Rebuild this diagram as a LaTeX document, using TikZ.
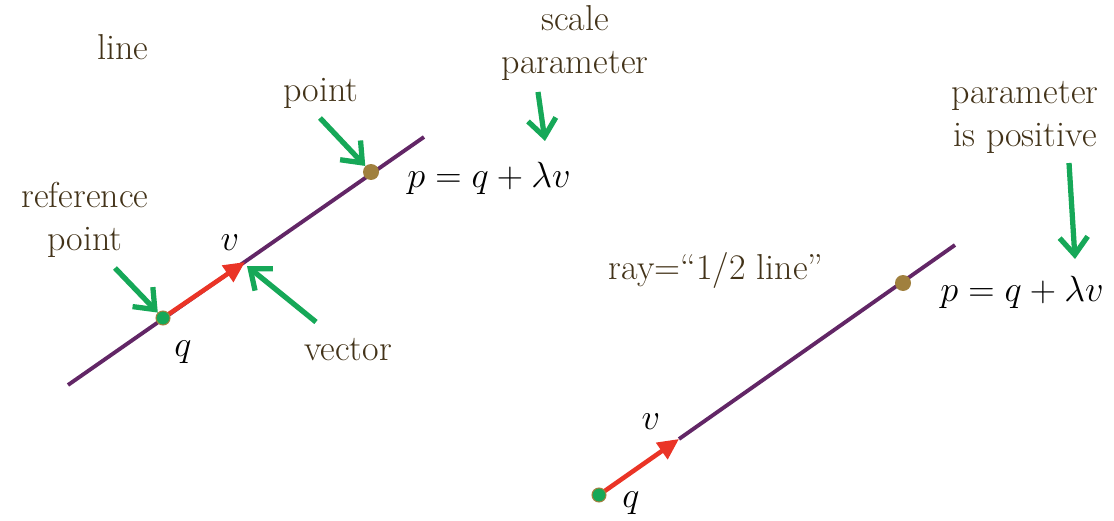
\documentclass[tikz,border=0pt]{standalone}
\usepackage{amsmath,amssymb}
\usepackage{tikz}
\usetikzlibrary{arrows.meta,positioning}

\definecolor{txtbrown}{RGB}{66,50,24}
\definecolor{linepurple}{RGB}{98,38,102}
\definecolor{vecred}{RGB}{234,52,38}
\definecolor{ptgreen}{RGB}{22,168,88}
\definecolor{ptgold}{RGB}{160,128,62}

\tikzset{
    lbl/.style={text=txtbrown, font=\fontsize{20.5}{24.5}\selectfont, inner sep=0pt, align=center},
    mth/.style={text=black, font=\fontsize{20.5}{24.5}\selectfont, inner sep=0pt},
    ln/.style={draw=linepurple, line width=2.2pt},
    vec/.style={draw=vecred, line width=2.6pt, -{Triangle[length=12pt,width=11pt]}},
    garrow/.style={draw=ptgreen, line width=3pt, -{Straight Barb[length=10pt,width=16pt]}},
    qdot/.style={circle, fill=ptgreen, draw=ptgold, line width=0.6pt, minimum size=0.28cm, inner sep=0pt},
    pdot/.style={circle, fill=ptgold, minimum size=0.32cm, inner sep=0pt}
}

\begin{document}
\begin{tikzpicture}[x=0.02cm,y=-0.02cm]
    \useasboundingbox (0,0) rectangle (1114,520);

    % line
    \node[lbl] (linelbl) at (123,47) {line};
    \draw[ln] (68,385) -- (424,137);
    \coordinate (v1) at (245,262);
    \coordinate (q1c) at (163,318);
    \draw[vec] (q1c) -- (v1);
    \node[qdot] (q1) at (q1c) {};
    \node[pdot] (p1) at (371,172) {};
    \node[mth] (vlbl1) at (230,243) {$v$};
    \node[mth] (qlbl1) at (183,352) {$q$};
    \node[mth] (eq1) at (489,178) {$p = q + \lambda v$};

    \node[lbl] (pointlbl) at (321,93) {point};
    \node[lbl] (scalelbl) at (575,43) {scale\\parameter};
    \node[lbl] (reflbl) at (85,220) {reference\\point};
    \node[lbl] (veclbl) at (348,350) {vector};

    \coordinate (t1) at (320,118);
    \coordinate (t2) at (538,92);
    \coordinate (h2) at (545,141);
    \coordinate (t3) at (115,268);
    \coordinate (t4) at (316,322);
    \draw[garrow] (t1) -- (p1);
    \draw[garrow] (t2) -- (h2);
    \draw[garrow] (t3) -- (q1);
    \draw[garrow] (t4) -- ([shift={(2,4)}]v1);

    % ray
    \node[lbl] (raylbl) at (716,270) {ray=``1/2 line''};
    \coordinate (v2) at (679,439);
    \coordinate (q2c) at (599,495);
    \draw[ln] (v2) -- (955,245);
    \node[pdot] (p2) at (903,283) {};
    \draw[vec] (q2c) -- (v2);
    \node[qdot] (q2) at (q2c) {};
    \node[mth] (vlbl2) at (651,422) {$v$};
    \node[mth] (qlbl2) at (631,503) {$q$};
    \node[mth] (eq2) at (1022,292) {$p = q + \lambda v$};

    \node[lbl] (poslbl) at (1025,117) {parameter\\is positive};
    \coordinate (t5) at (1069,163);
    \coordinate (h5) at (1075,259);
    \draw[garrow] (t5) -- (h5);
\end{tikzpicture}
\end{document}
